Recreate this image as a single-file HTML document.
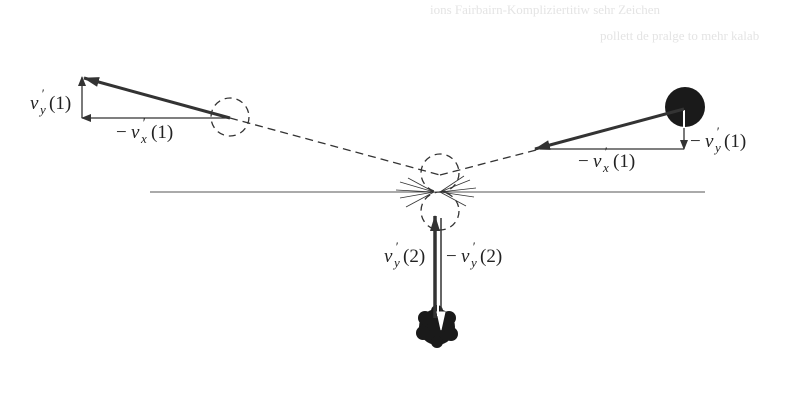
<!DOCTYPE html>
<html><head><meta charset="utf-8"><style>
html,body{margin:0;padding:0;background:#fff;}
svg{display:block;}
text{font-family:"Liberation Serif",serif;font-style:italic;font-size:19px;fill:#222;}
.n{font-style:normal;}
.s{font-size:13px;}
</style></head><body>
<svg width="801" height="412" viewBox="0 0 801 412" xmlns="http://www.w3.org/2000/svg">
<defs>
<marker id="ah" markerWidth="10" markerHeight="8" refX="9" refY="4" orient="auto" markerUnits="userSpaceOnUse"><path d="M0,0 L10,4 L0,8 Z" fill="#333"/></marker>
<marker id="ahb" markerWidth="16" markerHeight="10" refX="15" refY="5" orient="auto" markerUnits="userSpaceOnUse"><path d="M0,0 L16,5 L0,10 Z" fill="#333"/></marker>
</defs>
<!-- faint background text -->
<text x="430" y="14" class="n" style="fill:#e4e4e4;font-size:13px">ions Fairbairn-Kompliziertitiw sehr Zeichen</text>
<text x="600" y="40" class="n" style="fill:#e4e4e4;font-size:13px">pollett de pralge to mehr kalab</text>
<!-- horizontal surface line -->
<line x1="150" y1="192" x2="705" y2="192" stroke="#555" stroke-width="1"/>
<!-- dashed paths -->
<line x1="230" y1="118" x2="440" y2="175" stroke="#333" stroke-width="1.3" stroke-dasharray="8,5"/>
<line x1="440" y1="175" x2="540" y2="149" stroke="#333" stroke-width="1.3" stroke-dasharray="8,5"/>
<!-- dashed circles -->
<g fill="none" stroke="#333" stroke-width="1.3" stroke-dasharray="7,5">
<circle cx="230" cy="117" r="19"/>
<circle cx="440" cy="173" r="19"/>
<circle cx="440" cy="211" r="19"/>
</g>
<!-- collision rays -->
<g stroke="#333" stroke-width="0.8">
<line x1="434" y1="192" x2="400" y2="182"/><line x1="434" y1="192" x2="396" y2="190"/><line x1="434" y1="192" x2="400" y2="198"/><line x1="434" y1="192" x2="406" y2="207"/><line x1="434" y1="192" x2="408" y2="178"/>
<line x1="440" y1="192" x2="470" y2="180"/><line x1="440" y1="192" x2="476" y2="188"/><line x1="440" y1="192" x2="474" y2="197"/><line x1="440" y1="192" x2="466" y2="206"/><line x1="440" y1="192" x2="464" y2="176"/>
</g>
<!-- left vectors -->
<line x1="230" y1="118" x2="84" y2="78" stroke="#333" stroke-width="3" marker-end="url(#ahb)"/>
<line x1="230" y1="118" x2="82" y2="118" stroke="#333" stroke-width="1.3" marker-end="url(#ah)"/>
<line x1="82" y1="118" x2="82" y2="77" stroke="#333" stroke-width="1.3" marker-end="url(#ah)"/>
<text x="30" y="109">v</text><text x="41" y="98" class="s">′</text><text x="40" y="114" class="s">y</text><text x="49" y="109" class="n">(1)</text>
<text x="116" y="138" class="n">−</text><text x="131" y="138">v</text><text x="142" y="127" class="s">′</text><text x="141" y="143" class="s">x</text><text x="151" y="138" class="n">(1)</text>
<!-- right ball -->
<circle cx="685" cy="107" r="20" fill="#1a1a1a"/>
<line x1="684" y1="110" x2="684" y2="128" stroke="#fff" stroke-width="2"/>
<line x1="684" y1="128" x2="684" y2="149" stroke="#333" stroke-width="1.3" marker-end="url(#ah)"/>
<line x1="684" y1="109" x2="535" y2="149" stroke="#333" stroke-width="3" marker-end="url(#ahb)"/>
<line x1="684" y1="149" x2="540" y2="149" stroke="#333" stroke-width="1.3"/>
<text x="690" y="147" class="n">−</text><text x="705" y="147">v</text><text x="716" y="136" class="s">′</text><text x="715" y="152" class="s">y</text><text x="724" y="147" class="n">(1)</text>
<text x="578" y="167" class="n">−</text><text x="593" y="167">v</text><text x="604" y="156" class="s">′</text><text x="603" y="172" class="s">x</text><text x="613" y="167" class="n">(1)</text>
<!-- bottom ball -->
<g fill="#1a1a1a">
<circle cx="437" cy="327" r="18"/><circle cx="425" cy="318" r="7"/><circle cx="449" cy="318" r="7"/><circle cx="423" cy="333" r="7"/><circle cx="451" cy="334" r="7"/><circle cx="437" cy="342" r="6"/><circle cx="437" cy="311" r="6"/>
</g>
<!-- vertical arrows -->
<line x1="435" y1="318" x2="435" y2="216" stroke="#333" stroke-width="3.5" marker-end="url(#ahb)"/>
<line x1="441" y1="218" x2="441" y2="312" stroke="#333" stroke-width="1.5"/>
<line x1="438" y1="300" x2="438" y2="316" stroke="#fff" stroke-width="2"/>
<path d="M437,312 L441,330 L445,312 Z" fill="#fff" stroke="#fff"/>
<text x="384" y="262">v</text><text x="395" y="251" class="s">′</text><text x="394" y="267" class="s">y</text><text x="403" y="262" class="n">(2)</text>
<text x="446" y="262" class="n">−</text><text x="461" y="262">v</text><text x="472" y="251" class="s">′</text><text x="471" y="267" class="s">y</text><text x="480" y="262" class="n">(2)</text>
</svg>
</body></html>
